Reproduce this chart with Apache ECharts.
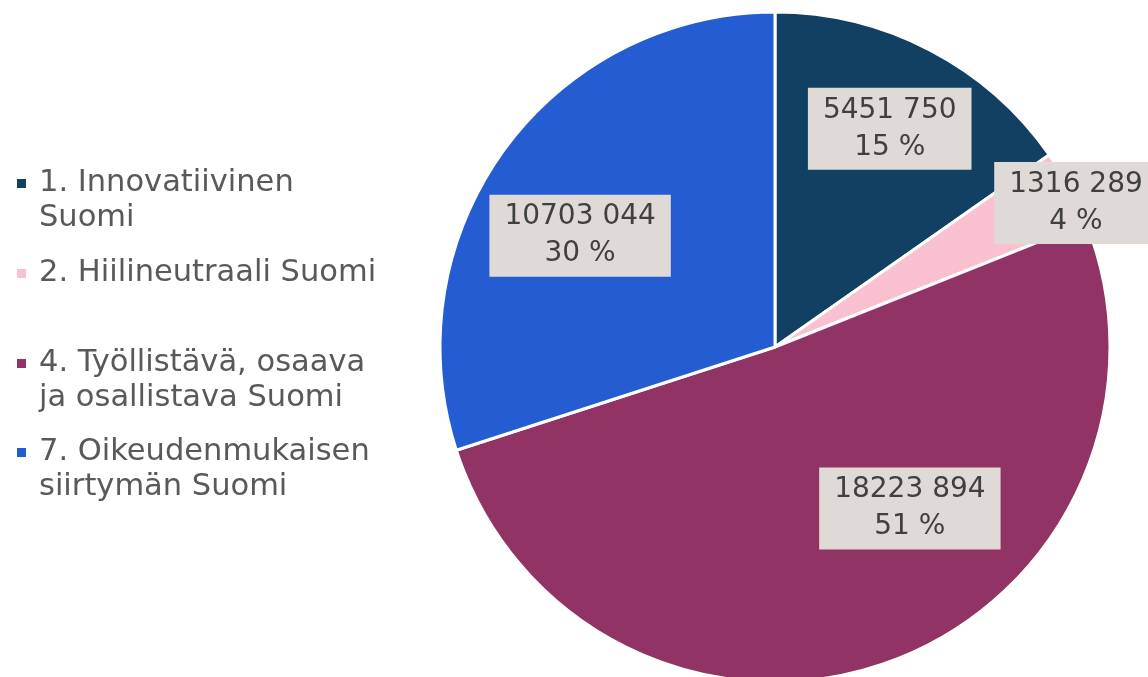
<!DOCTYPE html>
<html><head><meta charset="utf-8">
<script src="https://cdn.jsdelivr.net/npm/echarts@6/dist/echarts.min.js"></script>
<style>html,body{margin:0;padding:0;background:#fff}#c{width:1148px;height:677px}</style>
</head><body><div id="c"></div>
<script>
const categories = ['1. Innovatiivinen Suomi', '2. Hiilineutraali Suomi', '4. Työllistävä, osaava ja osallistava Suomi', '7. Oikeudenmukaisen siirtymän Suomi'];
const legendLines = [['1. Innovatiivinen', 'Suomi'], ['2. Hiilineutraali Suomi'], ['4. Työllistävä, osaava', 'ja osallistava Suomi'], ['7. Oikeudenmukaisen', 'siirtymän Suomi']];
const values = [5451750, 1316289, 18223894, 10703044];
const colors = ['#124062', '#F9C0CF', '#923366', '#245DD1'];
const labelOffsets = [[36, -67], [151, -63], [77, 1], [-57, -11]];

function fmt(v) {
  const hi = Math.floor(v / 1000), lo = v % 1000;
  return hi + ' ' + String(lo).padStart(3, '0');
}
// a blank first line keeps the marker level with the first text line
function legendText(i) {
  const l = legendLines[i];
  return l.length > 1 ? '\n' + l.join('\n') : l[0];
}
const FONT = 'DejaVu Sans';
const chart = echarts.init(document.getElementById('c'), null, {renderer: 'canvas'});
chart.setOption({
  animation: false,
  legend: {
    orient: 'vertical', left: 15, top: 131, padding: 0, itemGap: -16,
    itemWidth: 11, itemHeight: 11, icon: 'rect',
    formatter: name => legendText(categories.indexOf(name)),
    textStyle: {fontFamily: FONT, fontSize: 30.5, lineHeight: 35, color: '#595959'},
    data: categories.map((n, i) => ({
      name: n,
      textStyle: {padding: legendLines[i].length > 1 ? [0, 0, 0, 7] : [36, 0, 36, 7]}
    }))
  },
  series: [{
    type: 'pie', center: [775, 347], radius: 335, startAngle: 90, clockwise: true,
    percentPrecision: 0,
    itemStyle: {borderColor: '#fff', borderWidth: 3},
    label: {
      show: true, position: 'inside',
      formatter: p => fmt(p.value) + '\n' + p.percent + ' %',
      fontFamily: FONT, fontSize: 28, lineHeight: 37, color: '#404040',
      backgroundColor: '#DFDAD5', padding: [4, 15]
    },
    labelLine: {show: false},
    emphasis: {disabled: true},
    data: categories.map((n, i) => ({
      name: n, value: values[i], itemStyle: {color: colors[i]},
      label: {offset: labelOffsets[i]}
    }))
  }]
});
</script></body></html>
